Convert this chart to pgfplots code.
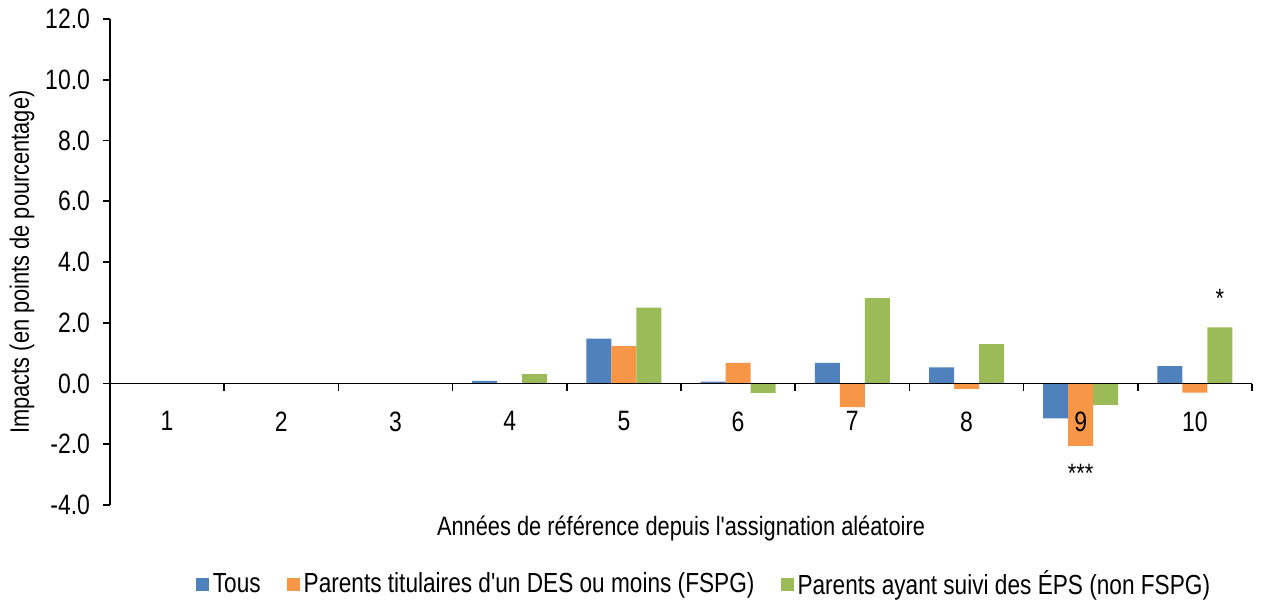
\documentclass[border=0pt]{standalone}
\usepackage{pgfplots}
\pgfplotsset{compat=1.18}
\usepackage{fontspec}
\setmainfont{Liberation Sans}[FakeStretch=0.82, Ligatures=TeXOff]

\definecolor{cblue}{HTML}{4F81BD}
\definecolor{corange}{HTML}{F79646}
\definecolor{cgreen}{HTML}{9BBB59}

\begin{document}
\begin{tikzpicture}
\useasboundingbox (-55pt,-48.5pt) rectangle (576pt,252.5pt);
\begin{axis}[
  at={(0,0)}, anchor=south west,
  width=571pt, height=243pt, scale only axis,
  font=\fontsize{13.3}{15}\selectfont,
  xmin=0.5, xmax=10.5, ymin=-4, ymax=12,
  axis y line*=left, axis x line*=middle,
  axis on top,
  axis line style={line width=0.8pt},
  ybar=0pt, bar width=12.5pt,
  xtick={1,...,10},
  xticklabels={1,2,3,4,5,6,7,8,9,10},
  minor xtick={0.5,1.5,...,10.5},
  major x tick style={draw=none},
  minor x tick style={black, line width=0.8pt},
  y tick style={black, line width=0.8pt},
  tick align=outside,
  major tick length=3.5pt, minor tick length=3.5pt,
  tick label style={font=\fontsize{14}{16}\selectfont},
  xticklabel style={yshift=-7pt},
  ytick={-4,-2,...,12},
  yticklabel style={xshift=-3pt},
  /pgf/number format/.cd, fixed, fixed zerofill, precision=1, assume math mode=true,
  /pgfplots/.cd,
  xlabel={Années de référence depuis l'assignation aléatoire},
  xlabel style={at={(axis description cs:0.5,0)}, anchor=north, yshift=-2pt},
  ylabel={Impacts (en points de pourcentage)},
  ylabel style={at={(axis description cs:-0.077,0.5)}, anchor=center},
  legend columns=3,
  legend style={at={(axis description cs:0.521,-0.1626)}, anchor=center, draw=none,
    font=\fontsize{13.8}{15}\selectfont,
    /tikz/every even column/.append style={column sep=11pt}},
  legend image code/.code={\fill[#1] (0pt,-3.25pt) rectangle (6.5pt,3.25pt);},
]
\addplot[fill=cblue, draw=none] coordinates {(1,0) (2,0) (3,0) (4,0.09) (5,1.48) (6,0.06) (7,0.68) (8,0.53) (9,-1.15) (10,0.57)};
\addlegendentry{Tous}
\addplot[fill=corange, draw=none] coordinates {(1,0) (2,0) (3,0) (4,0) (5,1.23) (6,0.68) (7,-0.78) (8,-0.18) (9,-2.05) (10,-0.3)};
\addlegendentry{Parents titulaires d'un DES ou moins (FSPG)}
\addplot[fill=cgreen, draw=none] coordinates {(1,0) (2,0) (3,0) (4,0.31) (5,2.50) (6,-0.31) (7,2.81) (8,1.30) (9,-0.70) (10,1.85)};
\addlegendentry{Parents ayant suivi des ÉPS (non FSPG)}
\node[anchor=base] at (axis cs:9,-3.27) {***};
\node[anchor=base] at (axis cs:10.219,2.5) {*};
\end{axis}
\end{tikzpicture}
\end{document}
